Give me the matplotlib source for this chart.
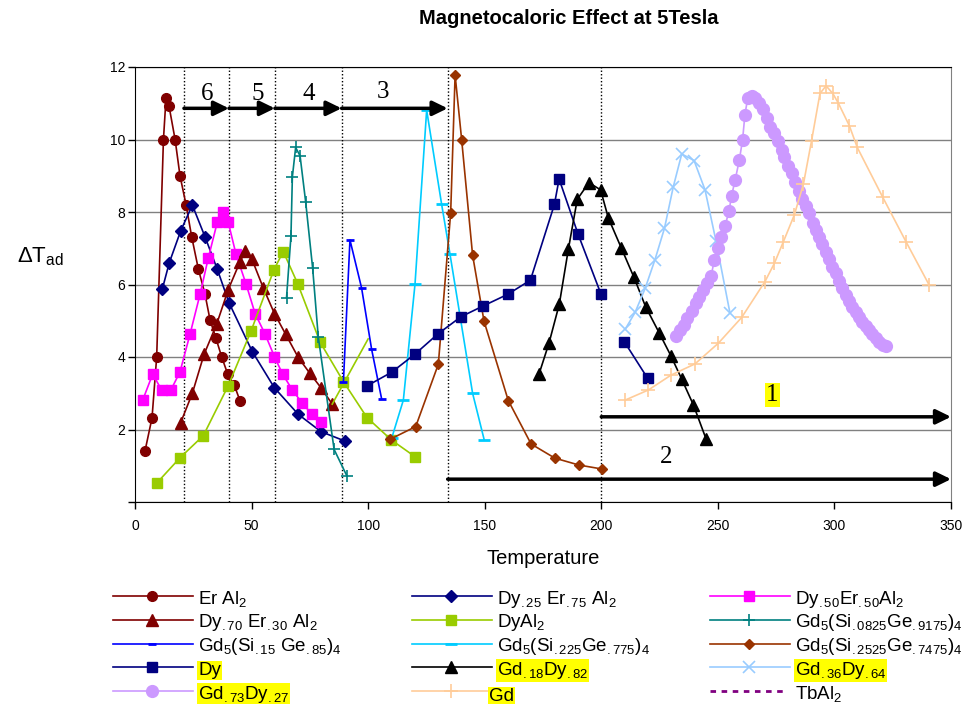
import numpy as np
import matplotlib.pyplot as plt
from matplotlib.lines import Line2D

plt.rcParams['font.family'] = ['Liberation Sans', 'DejaVu Sans']
plt.rcParams['mathtext.fontset'] = 'custom'
plt.rcParams['mathtext.rm'] = 'Liberation Sans'
plt.rcParams['mathtext.it'] = 'Liberation Sans:italic'
plt.rcParams['mathtext.bf'] = 'Liberation Sans:bold'

nan = np.nan

# --- data (Temperature, dT_ad) ---
er_al2_t = [4.3, 7.3, 9.3, 12.2, 13.3, 14.6, 17.2, 19.3, 21.9, 24.3, 27.2, 30.0, 32.2, 34.7, 37.2, 39.8, 42.6, 45.0]
er_al2_dt = [1.41, 2.32, 4.0, 10.0, 11.14, 10.92, 10.0, 9.0, 8.2, 7.32, 6.42, 5.74, 5.02, 4.52, 4.0, 3.52, 3.22, 2.8]

dy25_t = [11.7, 14.7, 19.6, 24.6, 30.0, 35.3, 40.3, 50.3, 59.8, 70.0, 79.8, 90.1]
dy25_dt = [5.87, 6.6, 7.48, 8.19, 7.32, 6.42, 5.5, 4.15, 3.15, 2.42, 1.94, 1.68]

dy50_t = [3.3, 7.6, 11.4, 15.4, 19.3, 23.6, 27.9, 31.4, 35.3, 37.6, 40.0, 43.3, 47.6, 51.5,
          55.8, 59.8, 63.3, 67.5, 71.8, 75.8, 79.6]
dy50_dt = [2.81, 3.53, 3.09, 3.09, 3.59, 4.63, 5.73, 6.72, 7.72, 8.0, 7.72, 6.84, 6.02, 5.2,
           4.63, 4.01, 3.53, 3.09, 2.72, 2.43, 2.22]

dy70_t = [19.6, 24.6, 29.6, 35.0, 40.0, 45.0, 47.2, 50.2, 55.0, 59.8, 64.6, 70.0, 75.0, 79.8, 84.6]
dy70_dt = [2.19, 3.0, 4.07, 4.9, 5.86, 6.62, 6.92, 6.69, 5.91, 5.2, 4.63, 3.99, 3.55, 3.15, 2.70]

dyal2_t = [9.3, 19.3, 29.3, 40.0, 49.8, 59.6, 63.6, 69.8, 79.4, 89.4, 99.5, 110.0, 120.1]
dyal2_dt = [0.52, 1.22, 1.83, 3.21, 4.72, 6.41, 6.91, 6.02, 4.41, 3.32, 2.33, 1.71, 1.25]
dyal2_seg_t = [84.6, 100.0]
dyal2_seg_dt = [2.70, 4.5]

gd0825_t = [65.0, 66.9, 67.5, 68.9, 70.8, 73.2, 76.2, 78.6, 85.4, 90.8]
gd0825_dt = [5.64, 7.35, 8.97, 9.78, 9.55, 8.28, 6.45, 4.56, 1.45, 0.73]

gd15_t = [89.4, 92.2, 97.2, 101.5, 105.8]
gd15_dt = [3.32, 7.23, 5.9, 4.21, 2.84]

gd225_t = [110.1, 115.1, 120.1, 125.1, 131.5, 135.1, 144.8, 149.8]
gd225_dt = [1.76, 2.81, 6.01, 10.81, 8.22, 6.84, 3.0, 1.71]

gd2525_t = [109.4, 120.4, 130.1, 135.4, 137.3, 140.1, 144.8, 149.7, 160.1, 169.9, 180.1, 190.4, 200.3]
gd2525_dt = [1.73, 2.08, 3.8, 7.98, 11.78, 10.0, 6.81, 4.99, 2.8, 1.6, 1.21, 1.02, 0.91]

dy_t = [99.4, 110.1, 120.1, 129.8, 139.8, 149.4, 159.9, 169.6, 179.9, 181.9, 190.1, 199.9, nan, 209.9, 219.9]
dy_dt = [3.2, 3.58, 4.08, 4.63, 5.11, 5.41, 5.73, 6.12, 8.21, 8.91, 7.38, 5.73, nan, 4.42, 3.41]

gd18_t = [173.3, 177.6, 182.0, 185.9, 189.7, 194.7, 199.7, 203.0, 208.5, 214.0, 219.0, 224.8,
          229.8, 234.5, 239.5, 245.0]
gd18_dt = [3.53, 4.39, 5.46, 6.98, 8.35, 8.81, 8.61, 7.84, 7.02, 6.2, 5.39, 4.67, 4.04, 3.39, 2.68, 1.73]

gd36_t = [210.2, 214.5, 218.8, 223.0, 227.1, 230.9, 234.5, 239.8, 244.5, 249.2, 255.2]
gd36_dt = [4.76, 5.23, 5.89, 6.68, 7.55, 8.7, 9.6, 9.42, 8.61, 7.2, 5.21]

gd73_t = [232.1, 233.8, 235.5, 236.9, 238.8, 240.5, 242.1, 243.8, 245.2, 247.1, 248.5, 250.2,
          251.4, 253.1, 254.8, 255.9, 257.4, 259.2, 260.6, 261.6, 262.8, 264.5, 265.9, 267.8,
          269.2, 270.9, 272.4, 274.1, 275.7, 277.4, 278.5, 280.2, 281.7, 283.1, 284.8, 286.2,
          287.7, 289.2, 290.7, 292.1, 293.4, 294.8, 296.2, 297.7, 299.1, 300.5, 302.0, 303.4,
          304.8, 306.3, 307.7, 309.1, 310.6, 312.0, 313.4, 314.8, 316.3, 317.7, 319.1, 320.7, 322.1]
gd73_dt = [4.58, 4.75, 4.88, 5.07, 5.28, 5.48, 5.65, 5.85, 6.03, 6.23, 6.68, 7.0,
           7.32, 7.61, 8.04, 8.45, 8.88, 9.43, 9.99, 10.68, 11.14, 11.2, 11.14, 11.0,
           10.83, 10.58, 10.35, 10.17, 9.96, 9.71, 9.53, 9.27, 9.07, 8.84, 8.58, 8.35,
           8.17, 7.96, 7.71, 7.50, 7.32, 7.11, 6.91, 6.69, 6.49, 6.31, 6.10, 5.89,
           5.71, 5.55, 5.39, 5.25, 5.09, 4.97, 4.86, 4.74, 4.63, 4.52, 4.42, 4.33, 4.30]

gd_t = [210.2, 220.2, 229.9, 240.2, 250.2, 260.2, 270.2, 274.2, 278.1, 282.8, 286.7, 290.2,
        293.8, 296.4, 299.3, 301.7, 306.4, 309.8, 320.7, 330.7, 340.6]
gd_dt = [2.81, 3.09, 3.50, 3.81, 4.38, 5.09, 6.08, 6.58, 7.18, 7.92, 8.77, 9.97,
         11.27, 11.48, 11.27, 11.0, 10.38, 9.78, 8.41, 7.18, 5.99]

tbal2_t = []
tbal2_dt = []

zone_lines = [21, 40.3, 60, 88.6, 134.1, 200]
zone_arrows = [(21, 40.3, 10.86), (40.3, 60, 10.86), (60, 88.6, 10.86), (88.6, 134.1, 10.86),
               (200, 350, 2.35), (134.1, 350, 0.63)]
zone_labels = [('6', 31, 11.25), ('5', 52.5, 11.25), ('4', 74.6, 11.25), ('3', 106.5, 11.3),
               ('1', 273.4, 2.95), ('2', 228, 1.23)]

# label, x, y, color, marker, markersize, highlighted
series = [
    ('Er Al$_2$', er_al2_t, er_al2_dt, '#800000', 'o', 7, False),
    ('Dy$_{\\mathrm{.25}}$ Er$_{\\mathrm{.75}}$ Al$_2$', dy25_t, dy25_dt, '#000080', 'D', 6.5, False),
    ('Dy$_{\\mathrm{.50}}$Er$_{\\mathrm{.50}}$Al$_2$', dy50_t, dy50_dt, '#FF00FF', 's', 7, False),
    ('Dy$_{\\mathrm{.70}}$ Er$_{\\mathrm{.30}}$ Al$_2$', dy70_t, dy70_dt, '#800000', '^', 8, False),
    ('DyAl$_2$', dyal2_t, dyal2_dt, '#99CC00', 's', 7, False),
    ('Gd$_5$(Si$_{\\mathrm{.0825}}$Ge$_{\\mathrm{.9175}}$)$_4$', gd0825_t, gd0825_dt, '#008080', '+', 9, False),
    ('Gd$_5$(Si$_{\\mathrm{.15}}$ Ge$_{\\mathrm{.85}}$)$_4$', gd15_t, gd15_dt, '#0000FF', '_', 6, False),
    ('Gd$_5$(Si$_{\\mathrm{.225}}$Ge$_{\\mathrm{.775}}$)$_4$', gd225_t, gd225_dt, '#00CCFF', '_', 8, False),
    ('Gd$_5$(Si$_{\\mathrm{.2525}}$Ge$_{\\mathrm{.7475}}$)$_4$', gd2525_t, gd2525_dt, '#993300', 'D', 5.5, False),
    ('Dy', dy_t, dy_dt, '#000080', 's', 7.5, True),
    ('Gd$_{\\mathrm{.18}}$Dy$_{\\mathrm{.82}}$', gd18_t, gd18_dt, '#000000', '^', 8.5, True),
    ('Gd$_{\\mathrm{.36}}$Dy$_{\\mathrm{.64}}$', gd36_t, gd36_dt, '#99CCFF', 'x', 8, True),
    ('Gd$_{\\mathrm{.73}}$Dy$_{\\mathrm{.27}}$', gd73_t, gd73_dt, '#CC99FF', 'o', 8.5, True),
    ('Gd', gd_t, gd_dt, '#FFCC99', '+', 10, True),
    ('TbAl$_2$', tbal2_t, tbal2_dt, '#800080', None, 0, False),
]

W, H = 963, 704
fig = plt.figure(figsize=(W / 100, H / 100), dpi=100)
ax = fig.add_axes([135 / W, 1 - 502 / H, 816 / W, 435 / H])

for x in zone_lines:
    ax.axvline(x, color='black', lw=1, ls=(0, (1, 1.5)), zorder=1)

for lab, t, dt, c, m, ms, hl in series:
    if m is None:
        ax.plot(t, dt, color=c, lw=2, ls=(0, (2, 2)), label=lab)
        continue
    mew = 1.2 if m in ('+', 'x') else 2 if m == '_' else 1
    ax.plot(t, dt, color=c, lw=1.2, marker=m, ms=ms, mfc=c, mec=c, mew=mew, label=lab, zorder=3)
    if lab == 'DyAl$_2$':
        ax.plot(dyal2_seg_t, dyal2_seg_dt, color=c, lw=1.2, zorder=3)

for x0, x1, y in zone_arrows:
    ax.annotate('', xy=(x1, y), xytext=(x0, y),
                arrowprops=dict(arrowstyle='-|>,head_length=0.45,head_width=0.22', color='black',
                                lw=2.5, shrinkA=0, shrinkB=0, mutation_scale=20), zorder=5)

for s, x, y in zone_labels:
    bb = dict(boxstyle='square,pad=0.05', fc='yellow', ec='none') if s == '1' else None
    ax.text(x, y, s, family='Liberation Serif', fontsize=18, ha='center', va='center', bbox=bb, zorder=6)

ax.set_xlim(0, 350)
ax.set_ylim(0, 12)
ax.set_xticks(range(0, 351, 50))
ax.set_yticks(range(0, 13, 2))
ax.set_yticklabels([''] + [str(v) for v in range(2, 13, 2)])
ax.yaxis.grid(True, color='#808080', lw=1)
ax.set_axisbelow(True)
ax.tick_params(direction='out', length=5, width=1, labelsize=10, color='black')
ax.tick_params(axis='x', pad=7)
ax.tick_params(axis='y', pad=2)
for sp in ['left', 'bottom', 'top']:
    ax.spines[sp].set_color('black')
ax.spines['right'].set_color('#808080')
ax.set_xlabel('Temperature', fontsize=14.5, labelpad=12)

fig.text(569 / W, 1 - 18 / H, 'Magnetocaloric Effect at 5Tesla', fontsize=14.5, fontweight='bold',
         ha='center', va='center')
fig.text(17 / W, 1 - 262 / H, 'ΔT$_{\\mathrm{ad}}$', fontsize=16, ha='left', va='baseline')

# legend: three columns laid out like the original
col_x = [113, 412, 710]
row_y = [596 + 23.8 * i for i in range(5)]
for i, (lab, t, dt, c, m, ms, hl) in enumerate(series):
    col, row = i % 3, i // 3
    if i == 14:
        col, row = 2, 4
    elif i == 13:
        col, row = 1, 4
    x0 = col_x[col]
    y = row_y[row]
    fy = 1 - y / H
    if m is None:
        fig.add_artist(Line2D([x0 / W, (x0 + 74) / W], [fy, fy], color=c, lw=2, ls=(0, (2, 2))))
    else:
        mew = 1.2 if m in ('+', 'x') else 2 if m == '_' else 1
        fig.add_artist(Line2D([x0 / W, (x0 + 80) / W], [fy, fy], color=c, lw=1.2))
        fig.add_artist(Line2D([(x0 + 39) / W], [fy], marker=m, ms=ms, color=c, mfc=c, mec=c, mew=mew))
    bb = dict(boxstyle='square,pad=0.05', fc='yellow', ec='none') if hl else None
    tx = x0 + 85
    ty = y + 7.6
    if i == 13:
        tx, ty = 489, 701
    fig.text(tx / W, 1 - ty / H, lab, fontsize=13.5, ha='left', va='baseline', bbox=bb)

fig.savefig('out.png', dpi=100)
